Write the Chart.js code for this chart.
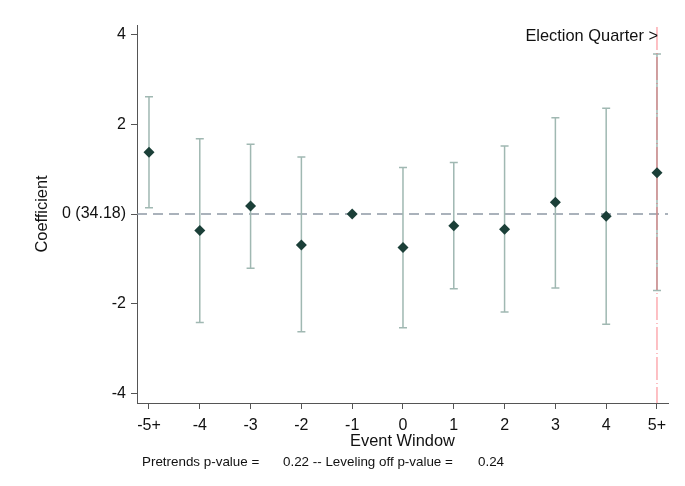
<!DOCTYPE html>
<html>
<head>
<meta charset="utf-8">
<script src="https://cdn.jsdelivr.net/npm/chart.js@4/dist/chart.umd.min.js"></script>
<style>
  html, body { margin: 0; padding: 0; background: #ffffff; }
  #wrap { width: 685px; height: 486px; position: relative; }
</style>
</head>
<body>
<div id="wrap"><canvas id="c"></canvas></div>
<script>
// ---- data ----
const windowLabels = ['-5+', '-4', '-3', '-2', '-1', '0', '1', '2', '3', '4', '5+'];
const coefficients = [1.38, -0.37, 0.18, -0.69, 0, -0.75, -0.26, -0.34, 0.26, -0.05, 0.92];
const ciLower = [0.14, -2.42, -1.21, -2.63, null, -2.54, -1.67, -2.19, -1.65, -2.46, -1.71];
const ciUpper = [2.62, 1.68, 1.56, 1.27, null, 1.04, 1.15, 1.52, 2.15, 2.36, 3.57];
const yTickValues = [-4, -2, 0, 2, 4];
const yTickLabels = ['-4', '-2', '0 (34.18)', '2', '4'];
const electionIndex = 10;
const yTitle = 'Coefficient';
const xTitle = 'Event Window';
const annotationText = 'Election Quarter >';
const footParts = ['Pretrends p-value =', '0.22 -- Leveling off p-value =', '0.24'];

const FONT = '"Liberation Sans", Arial, sans-serif';

const points = coefficients.map((v, i) => ({ x: i, y: v }));

const overlay = {
  id: 'overlay',
  beforeDatasetsDraw(chart) {
    const ctx = chart.ctx;
    const xs = chart.scales.x, ys = chart.scales.y;
    const area = chart.chartArea;
    ctx.save();
    // zero reference line
    ctx.strokeStyle = '#8f99a5';
    ctx.lineWidth = 1.5;
    ctx.setLineDash([10, 6]);
    const y0 = ys.getPixelForValue(0);
    ctx.beginPath();
    ctx.moveTo(area.left, y0);
    ctx.lineTo(area.right, y0);
    ctx.stroke();
    ctx.setLineDash([]);
    // error bars
    ctx.strokeStyle = '#a0b8b2';
    ctx.lineWidth = 1.5;
    for (let i = 0; i < coefficients.length; i++) {
      if (ciLower[i] === null || ciUpper[i] === null) continue;
      const x = xs.getPixelForValue(i);
      const yl = ys.getPixelForValue(ciLower[i]);
      const yu = ys.getPixelForValue(ciUpper[i]);
      ctx.beginPath();
      ctx.moveTo(x, yl); ctx.lineTo(x, yu);
      ctx.moveTo(x - 4, yl); ctx.lineTo(x + 4, yl);
      ctx.moveTo(x - 4, yu); ctx.lineTo(x + 4, yu);
      ctx.stroke();
    }
    // election quarter line
    const xe = xs.getPixelForValue(electionIndex);
    ctx.strokeStyle = 'rgba(250, 90, 100, 0.5)';
    ctx.lineWidth = 1.5;
    ctx.setLineDash([23, 3, 1, 3]);
    ctx.beginPath();
    ctx.moveTo(xe, area.top + 2);
    ctx.lineTo(xe, area.bottom);
    ctx.stroke();
    ctx.setLineDash([]);
    ctx.restore();
  },
  afterDraw(chart) {
    const ctx = chart.ctx;
    const xs = chart.scales.x;
    const area = chart.chartArea;
    ctx.save();
    ctx.fillStyle = '#111';
    ctx.font = '16.4px ' + FONT;
    // annotation
    ctx.textAlign = 'right';
    ctx.textBaseline = 'middle';
    ctx.fillText(annotationText, xs.getPixelForValue(electionIndex) + 1, 36);
    // x title
    ctx.textAlign = 'center';
    ctx.fillText(xTitle, (area.left + area.right) / 2, 441);
    // y title
    ctx.save();
    ctx.translate(42, (area.top + area.bottom) / 2);
    ctx.rotate(-Math.PI / 2);
    ctx.fillText(yTitle, 0, 0);
    ctx.restore();
    // footnote
    ctx.font = '13.4px ' + FONT;
    ctx.textAlign = 'left';
    ctx.fillText(footParts[0], 142, 462);
    ctx.fillText(footParts[1], 283, 462);
    ctx.fillText(footParts[2], 478, 462);
    ctx.restore();
  }
};

new Chart(document.getElementById('c'), {
  type: 'scatter',
  data: {
    datasets: [{
      data: points,
      pointStyle: 'rectRot',
      pointRadius: 5.5,
      pointHoverRadius: 5.5,
      backgroundColor: '#1b3f38',
      borderColor: '#1b3f38',
      borderWidth: 0,
      showLine: false
    }]
  },
  options: {
    responsive: true,
    maintainAspectRatio: false,
    animation: false,
    events: [],
    layout: { padding: { top: 25, right: 17, left: 0, bottom: 0 } },
    plugins: { legend: { display: false }, tooltip: { enabled: false }, title: { display: false } },
    scales: {
      x: {
        type: 'linear',
        min: -0.236,
        max: 10.217,
        afterFit(scale) { scale.height = 83; },
        afterBuildTicks(scale) { scale.ticks = windowLabels.map((_, i) => ({ value: i })); },
        ticks: {
          autoSkip: false, maxRotation: 0, minRotation: 0,
          padding: 7,
          color: '#111',
          font: { family: FONT, size: 16 },
          callback: (v) => windowLabels[v]
        },
        grid: { drawOnChartArea: false, drawTicks: true, tickLength: 6, color: '#555', lineWidth: 1 },
        border: { display: true, color: '#555', width: 1 }
      },
      y: {
        type: 'linear',
        min: -4.22,
        max: 4.22,
        afterFit(scale) { scale.width = 137; },
        afterBuildTicks(scale) { scale.ticks = yTickValues.map(v => ({ value: v })); },
        ticks: {
          autoSkip: false,
          padding: 5,
          color: '#111',
          font: { family: FONT, size: 16 },
          callback: (v) => yTickLabels[yTickValues.indexOf(v)]
        },
        grid: { drawOnChartArea: false, drawTicks: true, tickLength: 6, color: '#555', lineWidth: 1 },
        border: { display: true, color: '#555', width: 1 }
      }
    }
  },
  plugins: [overlay]
});
</script>
</body>
</html>
